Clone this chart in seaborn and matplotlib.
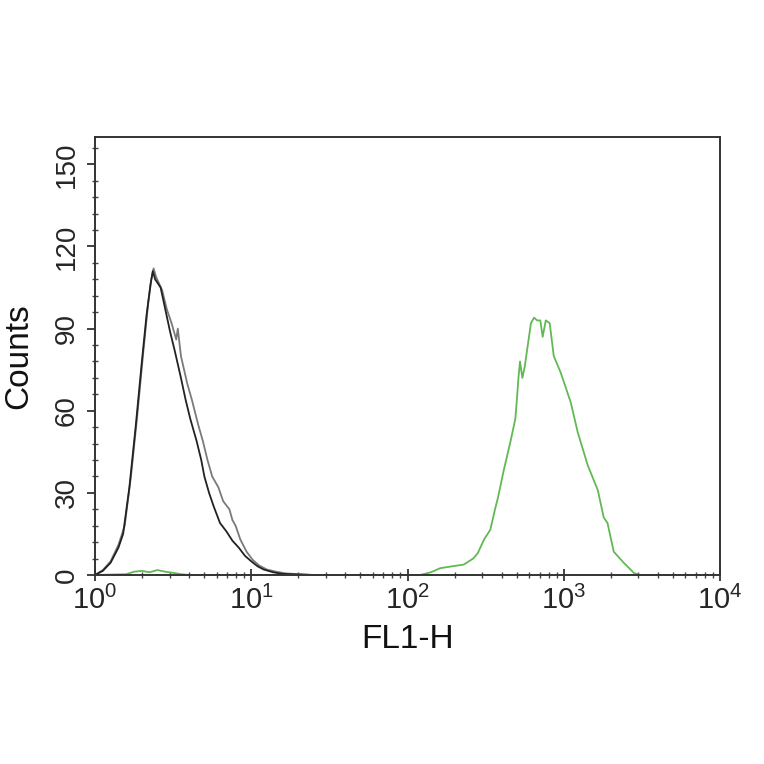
import numpy as np
import pandas as pd
import seaborn as sns
import matplotlib
matplotlib.use("Agg")
import matplotlib.pyplot as plt
from matplotlib.ticker import MultipleLocator, FixedLocator, FixedFormatter, LogLocator, NullFormatter

# ---- data (x positions in decades of FL1-H, counts) ----
black_log = [0.00, 0.05, 0.10, 0.15, 0.18, 0.22, 0.26, 0.30, 0.33, 0.355, 0.37, 0.385,
             0.42, 0.45, 0.48, 0.51, 0.55, 0.58, 0.61, 0.65, 0.68, 0.70, 0.73, 0.76,
             0.80, 0.84, 0.88, 0.92, 0.96, 1.00, 1.04, 1.08, 1.14, 1.20, 1.30, 1.40, 1.60]
black_cnt = [0, 1.5, 4.5, 10, 15, 32, 54, 78, 95, 106, 111, 108,
             105, 97, 89, 82, 72, 64, 57, 49, 42, 36, 30, 25,
             19, 16, 12.5, 10, 7, 5, 3.2, 2.0, 1.0, 0.4, 0.2, 0, 0]

gray_log = [0.00, 0.05, 0.10, 0.15, 0.19, 0.23, 0.27, 0.31, 0.34, 0.36, 0.375, 0.39,
            0.43, 0.46, 0.49, 0.52, 0.53, 0.55, 0.59, 0.62, 0.66, 0.69, 0.72, 0.75,
            0.79, 0.82, 0.86, 0.88, 0.90, 0.93, 0.97, 1.01, 1.05, 1.10, 1.16, 1.22,
            1.30, 1.40, 1.60]
gray_cnt = [0, 1.8, 5, 11, 18, 36, 58, 82, 99, 108, 112, 109,
            104, 97, 92, 86, 90, 80, 70, 64, 55, 49, 42, 36,
            32, 27, 24, 20, 18, 13, 8.5, 5.5, 3.5, 2, 1.2, 0.6,
            0.3, 0, 0]

green_log = [0.00, 0.20, 0.25, 0.30, 0.35, 0.40, 0.45, 0.50, 0.55, 0.60, 2.08, 2.15,
             2.21, 2.30, 2.36, 2.42, 2.45, 2.49, 2.53, 2.56, 2.58, 2.615, 2.66, 2.69,
             2.70, 2.71, 2.72, 2.735, 2.75, 2.77, 2.79, 2.81, 2.83, 2.85, 2.865, 2.885,
             2.91, 2.936, 2.98, 3.045, 3.09, 3.154, 3.218, 3.256, 3.28, 3.32, 3.385,
             3.45, 3.49, 4.00]
green_cnt = [0, 0.3, 1.2, 1.5, 1.0, 1.8, 1.2, 0.8, 0.3, 0, 0, 1.0,
             2.5, 3.3, 3.8, 6, 8, 13, 16.5, 24, 28.5, 38, 49, 57,
             64, 72, 78, 72, 76, 84, 92, 94, 93, 93, 87, 93,
             92, 80, 74, 63, 52, 40, 31, 21, 19, 8.5, 4.4,
             0.7, 0, 0]

x_ticks = [1, 10, 100, 1000, 10000]
x_tick_labels = [r"$\mathregular{10^{0}}$", r"$\mathregular{10^{1}}$", r"$\mathregular{10^{2}}$",
                 r"$\mathregular{10^{3}}$", r"$\mathregular{10^{4}}$"]
y_ticks = [0, 30, 60, 90, 120, 150]

# ---- build tidy frame ----
frames = []
for name, lx, cy in [("gray", gray_log, gray_cnt), ("black", black_log, black_cnt),
                     ("green", green_log, green_cnt)]:
    frames.append(pd.DataFrame({"FL1-H": 10 ** np.array(lx, dtype=float),
                                "Counts": cy, "sample": name}))
df = pd.concat(frames, ignore_index=True)

sns.set_style("white")
plt.rcParams["font.family"] = ["Liberation Sans", "DejaVu Sans"]
plt.rcParams["mathtext.fontset"] = "custom"
plt.rcParams["mathtext.rm"] = "Liberation Sans"

fig = plt.figure(figsize=(7.64, 7.64), dpi=100)
ax = fig.add_axes([95 / 764, 1 - 575 / 764, (720 - 95) / 764, (575 - 137) / 764])

palette = {"gray": "#7a7a7a", "black": "#222222", "green": "#62b954"}
for name in ["gray", "black", "green"]:
    sub = df[df["sample"] == name]
    sns.lineplot(data=sub, x="FL1-H", y="Counts", ax=ax, color=palette[name],
                 linewidth=1.3, estimator=None, sort=False, legend=False)

ax.set_xscale("log")
ax.set_xlim(1, 10000)
ax.set_ylim(0, 160)

ax.xaxis.set_major_locator(FixedLocator(x_ticks))
ax.xaxis.set_major_formatter(FixedFormatter(x_tick_labels))
ax.xaxis.set_minor_locator(LogLocator(base=10, subs=np.arange(2, 10), numticks=20))
ax.xaxis.set_minor_formatter(NullFormatter())
ax.yaxis.set_major_locator(FixedLocator(y_ticks))
ax.yaxis.set_minor_locator(MultipleLocator(6))

ax.tick_params(axis="x", which="major", direction="inout", length=8, width=1.3,
               color="#333333", labelsize=21, pad=4, bottom=True, top=False)
ax.tick_params(axis="x", which="minor", direction="inout", length=5, width=1.0,
               color="#444444", bottom=True, top=False)
ax.tick_params(axis="y", which="major", direction="out", length=6, width=1.3,
               color="#333333", labelsize=20, pad=5, left=True, right=False)
ax.tick_params(axis="y", which="minor", direction="inout", length=4, width=1.0,
               color="#444444", left=True, right=False)
for lab in ax.get_yticklabels():
    lab.set_rotation(90)
    lab.set_va("center")

for sp in ax.spines.values():
    sp.set_visible(True)
    sp.set_color("#333333")
    sp.set_linewidth(1.4)

ax.set_xlabel("FL1-H", fontsize=24, labelpad=6, color="#111111")
ax.set_ylabel("Counts", fontsize=24, labelpad=14, color="#111111")

fig.savefig("out.png", dpi=100, facecolor="white")
